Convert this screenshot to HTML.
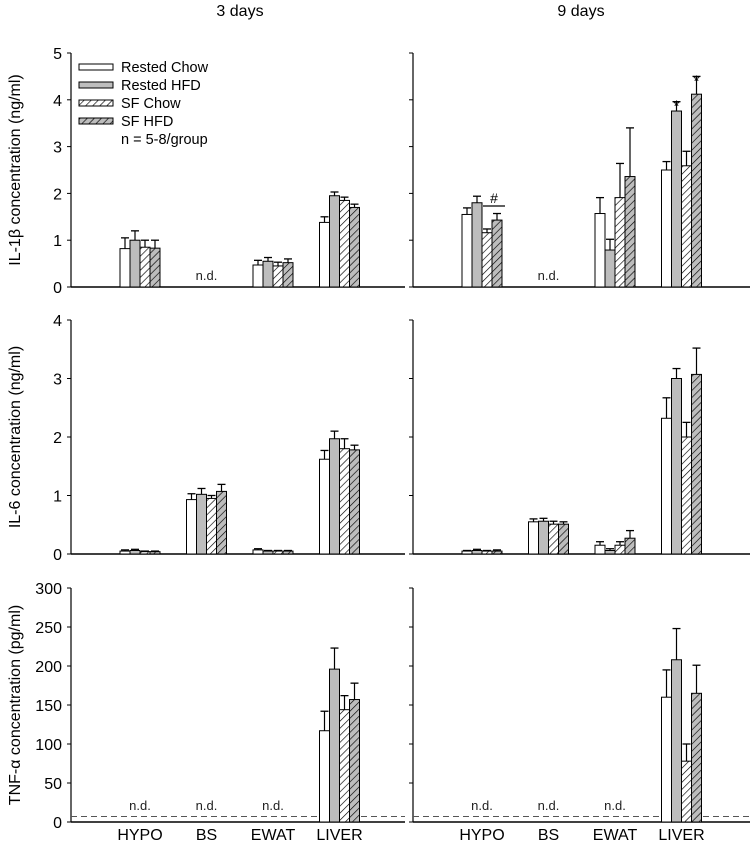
<!DOCTYPE html>
<html><head><meta charset="utf-8"><style>
html,body{margin:0;padding:0;background:#fff;}
svg{display:block;font-family:"Liberation Sans",Arial,sans-serif;}
</style></head><body>
<svg id="chart" width="750" height="849" viewBox="0 0 750 849" xmlns="http://www.w3.org/2000/svg">
<defs>
<pattern id="hatchW" patternUnits="userSpaceOnUse" width="5" height="5" patternTransform="rotate(45)">
<rect width="5" height="5" fill="#fff"/><line x1="0" y1="0" x2="0" y2="5" stroke="#000" stroke-width="1.3"/></pattern>
<pattern id="hatchG" patternUnits="userSpaceOnUse" width="5" height="5" patternTransform="rotate(45)">
<rect width="5" height="5" fill="#bdbdbd"/><line x1="0" y1="0" x2="0" y2="5" stroke="#000" stroke-width="1.3"/></pattern>
</defs>
<text x="240" y="16" font-size="16" text-anchor="middle">3 days</text>
<text x="581" y="16" font-size="16" text-anchor="middle">9 days</text>
<g id="legend" font-size="14.5">
<rect x="79" y="64" width="34" height="6" fill="#fff" stroke="#000"/><text x="121" y="72">Rested Chow</text>
<rect x="79" y="82" width="34" height="6" fill="#bdbdbd" stroke="#000"/><text x="121" y="90">Rested HFD</text>
<rect x="79" y="100" width="34" height="6" fill="url(#hatchW)" stroke="#000"/><text x="121" y="108">SF Chow</text>
<rect x="79" y="118" width="34" height="6" fill="url(#hatchG)" stroke="#000"/><text x="121" y="126">SF HFD</text>
<text x="121" y="144">n = 5-8/group</text>
</g>
<g id="plots"></g>
</svg>
<script>
const categories = ["HYPO","BS","EWAT","LIVER"];
const seriesNames = ["Rested Chow","Rested HFD","SF Chow","SF HFD"];
// IL-1b ng/ml (null = n.d.)
const il1b3Mean = [[0.82,1.0,0.85,0.83],null,[0.47,0.55,0.45,0.52],[1.38,1.95,1.85,1.7]];
const il1b3Err  = [[0.23,0.2,0.15,0.17],null,[0.1,0.08,0.08,0.08],[0.12,0.08,0.07,0.07]];
const il1b9Mean = [[1.55,1.8,1.16,1.43],null,[1.57,0.79,1.91,2.36],[2.5,3.76,2.59,4.12]];
const il1b9Err  = [[0.14,0.14,0.08,0.14],null,[0.34,0.23,0.73,1.04],[0.18,0.2,0.31,0.38]];
// IL-6 ng/ml
const il63Mean = [[0.05,0.06,0.04,0.04],[0.93,1.02,0.95,1.07],[0.07,0.05,0.05,0.05],[1.62,1.97,1.8,1.78]];
const il63Err  = [[0.02,0.02,0.01,0.01],[0.1,0.1,0.05,0.12],[0.02,0.01,0.01,0.01],[0.15,0.13,0.17,0.08]];
const il69Mean = [[0.05,0.06,0.05,0.05],[0.55,0.56,0.51,0.51],[0.15,0.06,0.15,0.27],[2.32,3.0,2.0,3.07]];
const il69Err  = [[0.01,0.02,0.01,0.02],[0.05,0.05,0.05,0.04],[0.06,0.03,0.06,0.13],[0.35,0.17,0.25,0.45]];
// TNF-a pg/ml
const tnf3Mean = [null,null,null,[117,196,144,157]];
const tnf3Err  = [null,null,null,[25,27,18,21]];
const tnf9Mean = [null,null,null,[160,208,78,165]];
const tnf9Err  = [null,null,null,[35,40,22,36]];
const il1bTicks = [0,1,2,3,4,5];
const il6Ticks = [0,1,2,3,4];
const tnfTicks = [0,50,100,150,200,250,300];
const tnfDetectionLimit = 7;

const NS="http://www.w3.org/2000/svg";
const root=document.getElementById('plots');
const fills=["#fff","#bdbdbd","url(#hatchW)","url(#hatchG)"];
function mk(tag,attrs,parent){const e=document.createElementNS(NS,tag);for(const k in attrs)e.setAttribute(k,attrs[k]);(parent||root).appendChild(e);return e;}

function panel(opts){
  const {x0,x1,yTop,yBot,max,ticks,means,errs,showY,label,ndY,dashed,name}=opts;
  const g=mk('g',{});
  
  
  const ys=v=>yBot-(v/max)*(yBot-yTop);
  const xc=i=>x0+69+i*66.5;
  const ya=mk('line',{x1:x0,y1:yTop,x2:x0,y2:yBot,stroke:'#000','stroke-width':1.2},g);
  
  
  const xa=mk('line',{x1:x0,y1:yBot,x2:x1,y2:yBot,stroke:'#000','stroke-width':1.6},g);
  
  
  ticks.forEach(t=>{
    mk('line',{x1:x0-4,y1:ys(t),x2:x0,y2:ys(t),stroke:'#000','stroke-width':1},g);
    if(showY){const tt=mk('text',{x:x0-9,y:ys(t)+6,'font-size':16,'text-anchor':'end'},g);tt.textContent=t;
      
      }
  });
  if(showY&&label){
    const cy=(yTop+yBot)/2;
    const lt=mk('text',{x:0,y:0,'font-size':16,'text-anchor':'middle',transform:`translate(20,${cy}) rotate(-90)`},g);
    lt.innerHTML=label;
    
    
  }
  if(dashed!=null){
    const d=mk('line',{x1:x0,y1:ys(dashed),x2:x1,y2:ys(dashed),stroke:'#555','stroke-width':1,'stroke-dasharray':'6,4'},g);
    
    
  }
  categories.forEach((c,i)=>{
    const m=means[i];
    if(!m){
      const nd=mk('text',{x:xc(i),y:ndY,'font-size':13,'text-anchor':'middle',fill:'#222'},g);nd.textContent='n.d.';
      
      
      return;
    }
    m.forEach((v,j)=>{
      const bx=xc(i)-20+j*10;
      const top=ys(v);const et=ys(v+errs[i][j]);
      const el=mk('line',{x1:bx+5,y1:top,x2:bx+5,y2:et,stroke:'#000','stroke-width':1.2},g);
      
      
      mk('line',{x1:bx+1,y1:et,x2:bx+9,y2:et,stroke:'#000','stroke-width':1.3},g);
      const r=mk('rect',{x:bx,y:top,width:10,height:Math.max(0,yBot-top),fill:fills[j],stroke:'#000','stroke-width':1},g);
      
      
    });
  });
  return {ys,xc};
}
const L=[71,405], R=[413,750];
const rows=[[53,287],[320,554],[588,822]];
panel({x0:L[0],x1:L[1],yTop:rows[0][0],yBot:rows[0][1],max:5,ticks:il1bTicks,means:il1b3Mean,errs:il1b3Err,showY:true,label:'IL-1β concentration (ng/ml)',ndY:rows[0][1]-7,name:'il1b-3days-panel'});
const p2=panel({x0:R[0],x1:R[1],yTop:rows[0][0],yBot:rows[0][1],max:5,ticks:il1bTicks,means:il1b9Mean,errs:il1b9Err,showY:false,ndY:rows[0][1]-7,name:'il1b-9days-panel'});
panel({x0:L[0],x1:L[1],yTop:rows[1][0],yBot:rows[1][1],max:4,ticks:il6Ticks,means:il63Mean,errs:il63Err,showY:true,label:'IL-6 concentration (ng/ml)',ndY:rows[1][1]-7,name:'il6-3days-panel'});
panel({x0:R[0],x1:R[1],yTop:rows[1][0],yBot:rows[1][1],max:4,ticks:il6Ticks,means:il69Mean,errs:il69Err,showY:false,ndY:rows[1][1]-7,name:'il6-9days-panel'});
panel({x0:L[0],x1:L[1],yTop:rows[2][0],yBot:rows[2][1],max:300,ticks:tnfTicks,means:tnf3Mean,errs:tnf3Err,showY:true,label:'TNF-α concentration (pg/ml)',ndY:rows[2][1]-12,dashed:tnfDetectionLimit,name:'tnf-3days-panel'});
panel({x0:R[0],x1:R[1],yTop:rows[2][0],yBot:rows[2][1],max:300,ticks:tnfTicks,means:tnf9Mean,errs:tnf9Err,showY:false,ndY:rows[2][1]-12,dashed:tnfDetectionLimit,name:'tnf-9days-panel'});
const hl=mk('line',{x1:p2.xc(0)+1,y1:p2.ys(1.73),x2:p2.xc(0)+23,y2:p2.ys(1.73),stroke:'#000','stroke-width':1.2});


const hs=mk('text',{x:p2.xc(0)+12,y:p2.ys(1.8),'font-size':14,'text-anchor':'middle'});hs.textContent='#';


[[1,3.96],[3,4.5]].forEach(([j,v])=>{
  const s=mk('text',{x:p2.xc(3)-15+j*10,y:p2.ys(v)+10,'font-size':16,'text-anchor':'middle'});s.textContent='*';
  
  
});
[[L[0]],[R[0]]].forEach(([x0])=>{
  categories.forEach((c,i)=>{
    const t=mk('text',{x:x0+69+i*66.5,y:840,'font-size':16,'text-anchor':'middle'});t.textContent=c;
    
    
  });
});
</script>
</body></html>
